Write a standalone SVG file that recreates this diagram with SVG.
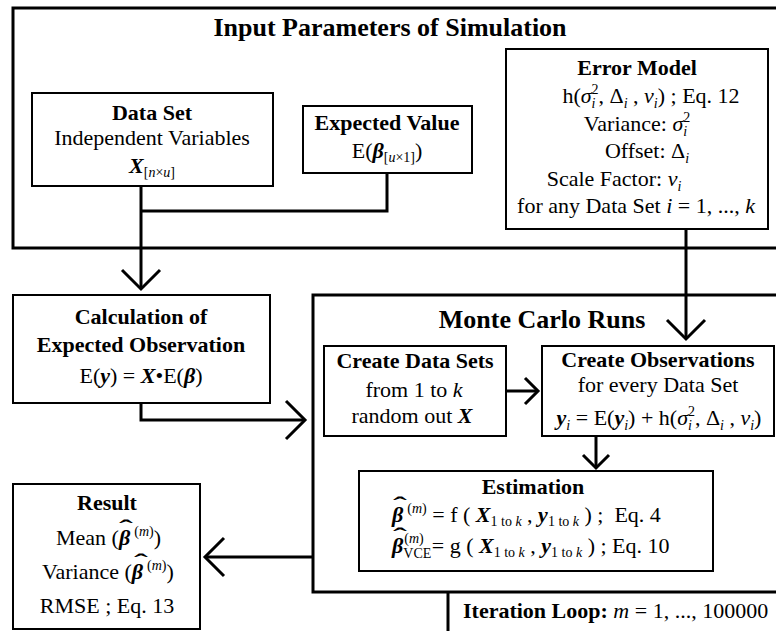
<svg xmlns="http://www.w3.org/2000/svg" width="776" height="631" viewBox="0 0 776 631">
<style>
text{font-family:"Liberation Serif","Times New Roman",serif;font-size:22px;fill:#000}
.b{font-weight:bold}
.i{font-style:italic}
.bi{font-weight:bold;font-style:italic}
.s{font-size:14px}
.t{font-size:26px;font-weight:bold}
.m{text-anchor:middle}
.hat{font-weight:bold;text-anchor:middle}
.outer{fill:none;stroke:#000;stroke-width:3}
.box{fill:#fff;stroke:#000;stroke-width:2}
.c{fill:none;stroke:#000;stroke-width:3}
.ah{fill:none;stroke:#000;stroke-width:3}
</style>
<defs>
<marker id="big" markerUnits="userSpaceOnUse" markerWidth="26" markerHeight="46" viewBox="-3 -23 26 46" refX="19" refY="0" orient="auto" overflow="visible">
<path class="ah" d="M0,-19 L19,0 L0,19"/>
</marker>
<marker id="small" markerUnits="userSpaceOnUse" markerWidth="20" markerHeight="34" viewBox="-3 -17 20 34" refX="13" refY="0" orient="auto" overflow="visible">
<path class="ah" d="M0,-13 L13,0 L0,13"/>
</marker>
</defs>

<g id="input-parameters">
<rect class="outer" x="13" y="8" width="790" height="240"/>
<text class="t m" x="390" y="36">Input Parameters of Simulation</text>
</g>

<g id="monte-carlo">
<rect class="outer" x="313" y="295" width="490" height="297"/>
<text class="t m" x="542" y="328">Monte Carlo Runs</text>
</g>

<g id="connectors">
<path class="c" d="M387,173 V211 H141"/>
<path class="c" d="M141,186 V289" marker-end="url(#big)"/>
<path class="c" d="M686,229 V339" marker-end="url(#big)"/>
<path class="c" d="M141,403 V420 H305" marker-end="url(#big)"/>
<path class="c" d="M313,557 H205" marker-end="url(#big)"/>
<path class="c" d="M506,391 H538" marker-end="url(#small)"/>
<path class="c" d="M596,436 V468" marker-end="url(#small)"/>
<path class="c" d="M448,592 V633"/>
</g>

<g id="data-set">
<rect class="box" x="32" y="93" width="241" height="93"/>
<text class="b m" x="152" y="120">Data Set</text>
<text class="m" x="152" y="145">Independent Variables</text>
<text class="m" x="152" y="173"><tspan class="bi">X</tspan><tspan class="s" dy="4">[<tspan class="i">n</tspan>×<tspan class="i">u</tspan>]</tspan></text>
</g>

<g id="expected-value">
<rect class="box" x="303" y="106" width="169" height="67"/>
<text class="b m" x="387" y="130">Expected Value</text>
<text class="m" x="387" y="158">E(<tspan class="bi">β</tspan><tspan class="s" dy="4">[<tspan class="i">u</tspan>×1]</tspan><tspan dy="-4">)</tspan></text>
</g>

<g id="error-model">
<rect class="box" x="506" y="49" width="262" height="180"/>
<text class="b m" x="637" y="75">Error Model</text>
<text class="m" x="651" y="103">h(<tspan class="i">σ</tspan><tspan class="s i" dy="5">i</tspan><tspan class="s" dx="-4" dy="-14">2</tspan><tspan dy="9">, Δ</tspan><tspan class="s i" dy="5">i</tspan><tspan dy="-5"> , </tspan><tspan class="i">ν</tspan><tspan class="s i" dy="5">i</tspan><tspan dy="-5">) ; Eq. 12</tspan></text>
<text class="m" x="637" y="131">Variance: <tspan class="i">σ</tspan><tspan class="s i" dy="5">i</tspan><tspan class="s" dx="-4" dy="-14">2</tspan></text>
<text class="m" x="647" y="158">Offset: Δ<tspan class="s i" dy="5">i</tspan></text>
<text class="m" x="614" y="186">Scale Factor: <tspan class="i">ν</tspan><tspan class="s i" dy="5">i</tspan></text>
<text class="m" x="636" y="213">for any Data Set <tspan class="i">i</tspan> = 1, ..., <tspan class="i">k</tspan></text>
</g>

<g id="calculation">
<rect class="box" x="13" y="295" width="257" height="108"/>
<text class="b m" x="141" y="324">Calculation of</text>
<text class="b m" x="141" y="352">Expected Observation</text>
<text class="m" x="141" y="383">E(<tspan class="bi">y</tspan>) = <tspan class="bi">X</tspan>•E(<tspan class="bi">β</tspan>)</text>
</g>

<g id="create-data-sets">
<rect class="box" x="324" y="346" width="182" height="90"/>
<text class="b m" x="415" y="368">Create Data Sets</text>
<text class="m" x="414" y="397">from 1 to <tspan class="i">k</tspan></text>
<text class="m" x="412" y="423">random out <tspan class="bi">X</tspan></text>
</g>

<g id="create-observations">
<rect class="box" x="542" y="346" width="232" height="90"/>
<text class="b m" x="658" y="367">Create Observations</text>
<text class="m" x="658" y="392">for every Data Set</text>
<text class="m" x="659" y="425"><tspan class="bi">y</tspan><tspan class="s i" dy="5">i</tspan><tspan dy="-5"> = E(</tspan><tspan class="bi">y</tspan><tspan class="s i" dy="5">i</tspan><tspan dy="-5">) + h(</tspan><tspan class="i">σ</tspan><tspan class="s i" dy="5">i</tspan><tspan class="s" dx="-4" dy="-14">2</tspan><tspan dy="9">, Δ</tspan><tspan class="s i" dy="5">i</tspan><tspan dy="-5"> , </tspan><tspan class="i">ν</tspan><tspan class="s i" dy="5">i</tspan><tspan dy="-5">)</tspan></text>
</g>

<g id="estimation">
<rect class="box" x="359" y="471" width="354" height="100"/>
<text class="b m" x="533" y="494">Estimation</text>
<text x="392" y="522"><tspan class="bi">β</tspan><tspan class="s" dx="4" dy="-9">(<tspan class="i">m</tspan>)</tspan><tspan dy="9"> = f ( </tspan><tspan class="bi">X</tspan><tspan class="s" dy="4">1 to <tspan class="i">k</tspan></tspan><tspan dy="-4"> , </tspan><tspan class="bi">y</tspan><tspan class="s" dy="4">1 to <tspan class="i">k</tspan></tspan><tspan dy="-4"> ) ; &#160;Eq. 4</tspan></text>
<text class="hat" transform="translate(400,512) scale(1.9,1)">ˆ</text>
<text x="392" y="553"><tspan class="bi">β</tspan><tspan class="s" dy="5">VCE</tspan><tspan class="s" dx="-27" dy="-15">(<tspan class="i">m</tspan>)</tspan><tspan dx="8" dy="10">= g ( </tspan><tspan class="bi">X</tspan><tspan class="s" dy="4">1 to <tspan class="i">k</tspan></tspan><tspan dy="-4"> , </tspan><tspan class="bi">y</tspan><tspan class="s" dy="4">1 to <tspan class="i">k</tspan></tspan><tspan dy="-4"> ) ; Eq. 10</tspan></text>
<text class="hat" transform="translate(400,543) scale(1.9,1)">ˆ</text>
</g>

<g id="result">
<rect class="box" x="13" y="484" width="187" height="145"/>
<text class="b m" x="107" y="510">Result</text>
<text x="56" y="545">Mean (<tspan class="bi">β</tspan><tspan class="s" dx="4" dy="-9">(<tspan class="i">m</tspan>)</tspan><tspan dy="9">)</tspan></text>
<text class="hat" transform="translate(126,535) scale(1.9,1)">ˆ</text>
<text x="42" y="579">Variance (<tspan class="bi">β</tspan><tspan class="s" dx="4" dy="-9">(<tspan class="i">m</tspan>)</tspan><tspan dy="9">)</tspan></text>
<text class="hat" transform="translate(141,569) scale(1.9,1)">ˆ</text>
<text class="m" x="107" y="613">RMSE ; Eq. 13</text>
</g>

<g id="iteration-loop">
<text x="463" y="618"><tspan class="b">Iteration Loop:</tspan> <tspan class="i">m</tspan> = 1, ..., 100000</text>
</g>
</svg>
